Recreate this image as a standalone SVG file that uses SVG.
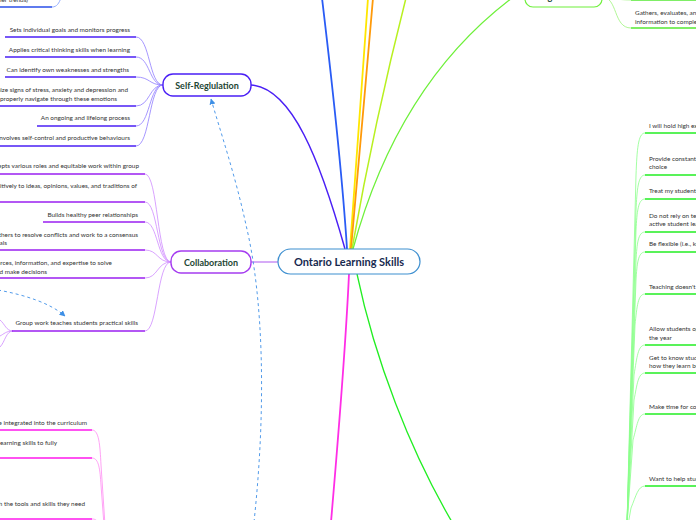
<svg xmlns="http://www.w3.org/2000/svg" width="696" height="520" viewBox="0 0 696 520">
<style>
.t{font-family:Lato,"Liberation Sans",sans-serif;font-size:6.4px;fill:#333}
.te{font-family:Lato,"Liberation Sans",sans-serif;font-size:6.4px;fill:#333;text-anchor:end}
.nt{font-family:Lato,"Liberation Sans",sans-serif;font-weight:bold;font-size:9px;fill:#1e4634;text-anchor:middle}
.ct{font-family:Lato,"Liberation Sans",sans-serif;font-weight:bold;font-size:11px;fill:#172a4f;text-anchor:middle}
.c{fill:none}
.ul{fill:none;stroke-width:1.6}
</style>
<defs>
<marker id="ah" viewBox="0 0 10 10" refX="9" refY="5" markerWidth="6" markerHeight="6" orient="auto-start-reverse" markerUnits="userSpaceOnUse">
<path d="M0,0 L10,5 L0,10 z" fill="#3d8fe6"/>
</marker>
</defs>
<g id="connectors">
<!-- main branches -->
<path class="c" d="M251,85 C292,88 320,160 345,249" stroke="#4a1ff5" stroke-width="1.5"/>
<path class="c" d="M322,-2 C333,90 342,170 347,249" stroke="#2a5cf5" stroke-width="1.8"/>
<path class="c" d="M368,-2 C362,80 356,170 350,249" stroke="#ffe600" stroke-width="1.8"/>
<path class="c" d="M373,-2 C366,80 358,170 351,249" stroke="#ff9a0a" stroke-width="1.8"/>
<path class="c" d="M406,-2 C385,80 366,170 352,249" stroke="#b8f020" stroke-width="1.5"/>
<path class="c" d="M512,-2 C430,60 380,150 353,249" stroke="#6ef03a" stroke-width="1.3"/>
<path class="c" d="M251,262 L278,262" stroke="#c98ff5" stroke-width="1.5"/>
<path class="c" d="M349,274 C345,360 338,440 331,522" stroke="#ff2ee6" stroke-width="1.8"/>
<path class="c" d="M357,274 C375,360 410,450 452,522" stroke="#22ee22" stroke-width="1.3"/>
<!-- top right organization child -->
<path class="c" d="M602,-3 C618,-3 613,28 631,28" stroke="#a8f58a" stroke-width="0.9"/>
<path class="c" d="M631,28 L696,28" stroke="#55e833" stroke-width="1.6"/>
<path class="c" d="M602,-3 C612,-3 615,0 631,0" stroke="#a8f58a" stroke-width="0.9"/>
<path class="c" d="M631,0 L696,0" stroke="#55e833" stroke-width="1.6"/>
<!-- top left blue child -->
<path class="c" d="M0,7 L52,7" stroke="#2a4fe8" stroke-width="1.6"/>
<path class="c" d="M52,7 C57,7 59,3 61,-2" stroke="#8aa6ff" stroke-width="0.9"/>
<!-- self-regulation children -->
<g stroke="#8f7cff" stroke-width="0.8" fill="none">
<path d="M163,85 C149,85 150,37 136,37"/>
<path d="M163,85 C149,85 150,57 136,57"/>
<path d="M163,85 C149,85 150,77 136,77"/>
<path d="M163,85 C149,85 150,106 136,106"/>
<path d="M163,85 C149,85 150,126 136,126"/>
<path d="M163,85 C149,85 150,146 136,146"/>
</g>
<g stroke="#4a1ff5" class="ul">
<path d="M5,37 L136,37"/>
<path d="M5,57 L136,57"/>
<path d="M5,77 L136,77"/>
<path d="M0,106 L136,106"/>
<path d="M37,126 L136,126"/>
<path d="M0,146 L136,146"/>
</g>
<!-- collaboration children -->
<g stroke="#cf8cff" stroke-width="0.8" fill="none">
<path d="M171,262 C157,262 158,174 145,174"/>
<path d="M171,262 C157,262 158,202 145,202"/>
<path d="M171,262 C157,262 158,222 145,222"/>
<path d="M171,262 C157,262 158,250 145,250"/>
<path d="M171,262 C157,262 158,278 145,278"/>
<path d="M171,262 C157,262 158,331 145,331"/>
<path d="M13,331 C6,331 5,324 0,320"/>
<path d="M13,331 C6,331 5,342 0,347"/>
<path d="M13,331 C6,331 4,334 0,336"/>
</g>
<g stroke="#9a1ff0" class="ul">
<path d="M0,174 L145,174"/>
<path d="M0,202 L145,202"/>
<path d="M43,222 L145,222"/>
<path d="M0,250 L145,250"/>
<path d="M0,278 L145,278"/>
<path d="M12,331 L145,331"/>
</g>
<!-- magenta bottom-left children -->
<g stroke="#ff8cf2" stroke-width="0.8" fill="none">
<path d="M92,430 C99,430 100,445 101,465 L105,525"/>
<path d="M92,458 C99,458 100,470 101,485 L104,525"/>
<path d="M92,519 C96,519 98,521 99,525"/>
</g>
<g stroke="#ff18ec" class="ul">
<path d="M0,430 L92,430"/>
<path d="M0,458 L92,458"/>
<path d="M0,519 L92,519"/>
</g>
<!-- right green children -->
<g stroke="#8cff8c" stroke-width="0.8" fill="none">
<path d="M645,133 C638,133 637,150 636,175 L627,525"/>
<path d="M645,175 C638,175 637,190 636,210 L627,525"/>
<path d="M645,199 C638,199 637,212 636,230 L627,525"/>
<path d="M645,232 C638,232 637,244 636,260 L627,525"/>
<path d="M645,252 C638,252 637,264 636,280 L627,525"/>
<path d="M645,294 C638,294 637,306 635,325 L627,525"/>
<path d="M645,345 C638,345 637,357 634,375 L627,525"/>
<path d="M645,373 C638,373 637,385 634,400 L627,525"/>
<path d="M645,414 C638,414 637,426 633,440 L627,525"/>
<path d="M645,486 C638,486 636,496 631,508 L628,525"/>
</g>
<g stroke="#22ee22" class="ul">
<path d="M645,133 L696,133"/>
<path d="M645,175 L696,175"/>
<path d="M645,199 L696,199"/>
<path d="M645,232 L696,232"/>
<path d="M645,252 L696,252"/>
<path d="M645,294 L696,294"/>
<path d="M645,345 L696,345"/>
<path d="M645,373 L696,373"/>
<path d="M645,414 L696,414"/>
<path d="M645,486 L696,486"/>
</g>
<!-- dashed relations -->
<path class="c" d="M254,522 C266,410 264,300 246,225 C236,178 220,130 211,99" stroke="#3d8fe6" stroke-width="0.9" stroke-dasharray="3,3" marker-end="url(#ah)"/>
<path class="c" d="M-2,290 C25,295 50,303 65,316" stroke="#3d8fe6" stroke-width="0.9" stroke-dasharray="3,3" marker-end="url(#ah)"/>
</g>
<g id="node-organization">
<rect x="525" y="-20" width="77" height="27" rx="8" fill="#fff" stroke="#6ef03a" stroke-width="1.2"/>
<text class="nt" x="563" y="0">Organization</text>
</g>
<g id="node-org-child">
<text class="t" x="635" y="15">Gathers, evaluates, and uses</text>
<text class="t" x="635" y="24">information to complete tasks</text>
</g>
<g id="node-blue-child">
<text class="te" x="28" y="2">social media and other trends)</text>
</g>
<g id="node-central">
<rect x="278" y="249" width="142" height="25" rx="12.5" fill="#fff" stroke="#3d8fd0" stroke-width="1.2"/>
<text class="ct" x="349" y="265.5">Ontario Learning Skills</text>
</g>
<g id="node-self-regulation">
<rect x="163" y="74" width="88" height="22" rx="10" fill="#fff" stroke="#4a1ff5" stroke-width="1.4"/>
<text class="nt" x="207" y="88.5">Self-Reglulation</text>
</g>
<g id="node-collaboration">
<rect x="171" y="251" width="80" height="22" rx="10" fill="#fff" stroke="#a53cf0" stroke-width="1.4"/>
<text class="nt" x="211" y="265.5">Collaboration</text>
</g>
<g id="self-regulation-items">
<text class="te" x="130" y="32">Sets individual goals and monitors progress</text>
<text class="te" x="130" y="52">Applies critical thinking skills when learning</text>
<text class="te" x="129" y="72">Can identify own weaknesses and strengths</text>
<text class="te" x="128" y="92">Able to recognize signs of stress, anxiety and depression and</text>
<text class="te" x="117" y="101">properly navigate through these emotions</text>
<text class="te" x="130" y="120">An ongoing and lifelong process</text>
<text class="te" x="130" y="140">Involves self-control and productive behaviours</text>
</g>
<g id="collaboration-items">
<text class="te" x="139" y="168">Accepts various roles and equitable work within group</text>
<text class="te" x="137" y="188">Responds positively to ideas, opinions, values, and traditions of</text>
<text class="te" x="138" y="217">Builds healthy peer relationships</text>
<text class="te" x="138" y="237">Works with others to resolve conflicts and work to a consensus</text>
<text class="te" x="7" y="245">goals</text>
<text class="te" x="112" y="265">Shares resources, information, and expertise to solve</text>
<text class="te" x="47" y="274">problems and make decisions</text>
<text class="te" x="138" y="325">Group work teaches students practical skills</text>
</g>
<g id="bottom-left-items">
<text class="te" x="87" y="425">Learning skills should be integrated into the curriculum</text>
<text class="te" x="57" y="445">Students need learning skills to fully</text>
<text class="te" x="85" y="506">Provide students with the tools and skills they need</text>
</g>
<g id="right-items">
<text class="t" x="649" y="128">I will hold high expectations for all students</text>
<text class="t" x="649" y="161">Provide constant feedback, voice and</text>
<text class="t" x="649" y="169">choice</text>
<text class="t" x="649" y="193">Treat my students with respect</text>
<text class="t" x="649" y="218">Do not rely on textbooks; encourage</text>
<text class="t" x="649" y="226">active student learning</text>
<text class="t" x="649" y="246">Be flexible (i.e., keep an open mind)</text>
<text class="t" x="649" y="289">Teaching doesn't stop at the bell</text>
<text class="t" x="649" y="331">Allow students opportunities to grow throughout</text>
<text class="t" x="649" y="340">the year</text>
<text class="t" x="649" y="360">Get to know students and</text>
<text class="t" x="649" y="368">how they learn best</text>
<text class="t" x="649" y="409">Make time for conversations</text>
<text class="t" x="649" y="481">Want to help students succeed</text>
</g>
</svg>
